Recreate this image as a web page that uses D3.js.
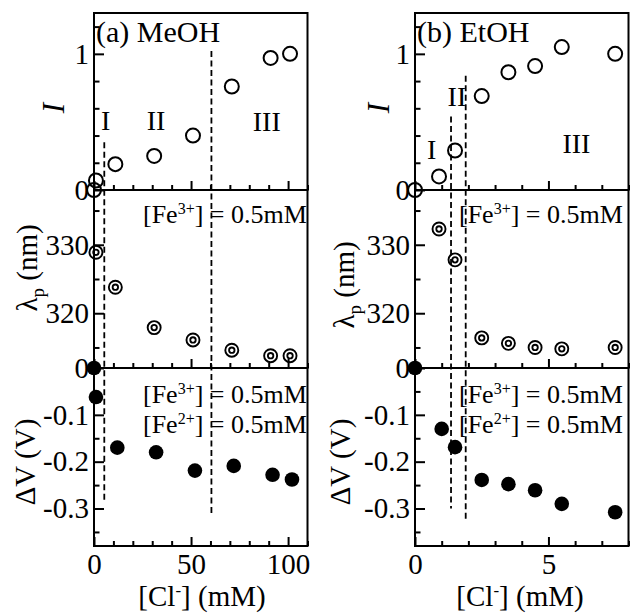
<!DOCTYPE html>
<html><head><meta charset="utf-8">
<script src="https://cdn.jsdelivr.net/npm/d3@7"></script>
<style>html,body{margin:0;padding:0;background:#fff;}svg{display:block;}</style>
</head><body>
<svg id="chart" width="630" height="616"></svg>
<script>
// ---------- data ----------
// (a) MeOH
const clMeOH_I   = [0, 1, 11, 31, 51, 71, 91, 101];
const I_MeOH     = [0, 0.07, 0.19, 0.25, 0.40, 0.76, 0.97, 1.0];
const clMeOH_lam = [1, 11, 31, 51, 71, 91, 101];
const lam_MeOH   = [328.9, 323.8, 317.9, 316.1, 314.6, 313.8, 313.8];
const clMeOH_V   = [0, 1, 12, 32, 52, 72, 92, 102];
const dV_MeOH    = [0, -0.062, -0.17, -0.18, -0.219, -0.209, -0.228, -0.238];
const divMeOH_x   = [5.3, 60.5];
const divMeOH_top = [0.35, 1.02];
const divMeOH_bot = [-0.285, -0.31];
const regMeOH_lab = ["I", "II", "III"];
const regMeOH_x   = [6, 32, 89];
const regMeOH_y   = [0.44, 0.44, 0.43];
// (b) EtOH
const clEtOH_I   = [0, 0.9, 1.5, 2.5, 3.5, 4.5, 5.5, 7.5];
const I_EtOH     = [0, 0.10, 0.29, 0.69, 0.865, 0.91, 1.05, 1.0];
const clEtOH_lam = [0.9, 1.5, 2.5, 3.5, 4.5, 5.5, 7.5];
const lam_EtOH   = [332.3, 327.8, 316.4, 315.6, 315.0, 314.8, 315.0];
const clEtOH_V   = [0, 1.0, 1.5, 2.5, 3.5, 4.5, 5.5, 7.5];
const dV_EtOH    = [0, -0.13, -0.169, -0.239, -0.248, -0.261, -0.29, -0.308];
const divEtOH_x   = [1.35, 1.9];
const divEtOH_top = [0.54, 0.84];
const divEtOH_bot = [-0.30, -0.322];
const regEtOH_lab = ["I", "II", "III"];
const regEtOH_x   = [0.62, 1.57, 6.05];
const regEtOH_y   = [0.23, 0.62, 0.27];
// ticks
const xMajMeOH = [0, 50, 100];
const xMinMeOH = [10, 20, 30, 40, 60, 70, 80, 90, 110];
const xMajEtOH = [0, 5];
const xMinEtOH = [1, 2, 3, 4, 6, 7, 8];
const yMajI = [0, 1],  yMajI_lab = ["0", "1"];
const yMinI = [0.2, 0.4, 0.6, 0.8, 1.2];
const yMajL = [320, 330], yMajL_lab = ["320", "330"];
const yMinL = [315, 325, 335];
const yMajV = [0, -0.1, -0.2, -0.3], yMajV_lab = ["0", "-0.1", "-0.2", "-0.3"];
const yMinV = [-0.05, -0.15, -0.25, -0.35];

// ---------- layout ----------
const svg = d3.select("#chart");
svg.append("rect").attr("width", 630).attr("height", 616).attr("fill", "#fff");
const FONT = "'Liberation Serif','Times New Roman',serif";
const rows = [[13, 190], [190, 368], [368, 546]];

const yI = d3.scaleLinear().domain([0, 1.3]).range([rows[0][1], rows[0][0]]);
const yL = d3.scaleLinear().domain([312, 338]).range([rows[1][1], rows[1][0]]);
const yV = d3.scaleLinear().domain([-0.38, 0]).range([rows[2][1], rows[2][0]]);

const cols = [
  { x: d3.scaleLinear().domain([0, 110]).range([94, 307.5]),
    xMaj: xMajMeOH, xMin: xMinMeOH,
    I: [clMeOH_I, I_MeOH], L: [clMeOH_lam, lam_MeOH], V: [clMeOH_V, dV_MeOH],
    div: [divMeOH_x, divMeOH_top, divMeOH_bot],
    reg: [regMeOH_lab, regMeOH_x, regMeOH_y],
    title: "(a) MeOH", annX: 143,
    labI: [53, 108], labL: [27, 268], labV: [25, 462], labX: 202 },
  { x: d3.scaleLinear().domain([0, 8]).range([415, 628.5]),
    xMaj: xMajEtOH, xMin: xMinEtOH,
    I: [clEtOH_I, I_EtOH], L: [clEtOH_lam, lam_EtOH], V: [clEtOH_V, dV_EtOH],
    div: [divEtOH_x, divEtOH_top, divEtOH_bot],
    reg: [regEtOH_lab, regEtOH_x, regEtOH_y],
    title: "(b) EtOH", annX: 459,
    labI: [378, 108], labL: [344, 285], labV: [340, 462], labX: 520 }
];

function styleAxis(g, size) {
  g.select(".domain").remove();
  g.selectAll("line").attr("stroke", "#000").attr("stroke-width", 2);
  g.selectAll("text").attr("font-family", FONT).attr("font-size", size).attr("fill", "#000");
}

cols.forEach(c => {
  const x = c.x;
  const [xa, xb] = x.range();
  const panels = [[yI, yMajI, yMajI_lab, yMinI], [yL, yMajL, yMajL_lab, yMinL], [yV, yMajV, yMajV_lab, yMinV]];
  panels.forEach(([y, maj, lab, mn], i) => {
    const [yb, yt] = y.range();
    svg.append("g").attr("transform", `translate(${xa},0)`)
      .call(d3.axisLeft(y).tickValues(mn).tickSize(-5.5).tickFormat(""))
      .call(g => styleAxis(g, 29));
    svg.append("g").attr("transform", `translate(${xa},0)`)
      .call(d3.axisLeft(y).tickValues(maj).tickSize(-10).tickPadding(5)
        .tickFormat((d, k) => lab[k]))
      .call(g => styleAxis(g, 29));
    svg.append("g").attr("transform", `translate(0,${yb})`)
      .call(d3.axisBottom(x).tickValues(c.xMin).tickSize(-5).tickFormat(""))
      .call(g => styleAxis(g, 29));
    svg.append("g").attr("transform", `translate(0,${yb})`)
      .call(d3.axisBottom(x).tickValues(c.xMaj).tickSize(-9).tickPadding(7)
        .tickFormat(i === 2 ? (d => String(d)) : ""))
      .call(g => styleAxis(g, 29));
    svg.append("rect").attr("x", xa).attr("y", yt).attr("width", xb - xa).attr("height", yb - yt)
      .attr("fill", "none").attr("stroke", "#000").attr("stroke-width", 2);
  });

  // dashed region dividers
  c.div[0].forEach((dx, k) => {
    svg.append("line")
      .attr("x1", x(dx)).attr("x2", x(dx))
      .attr("y1", yI(c.div[1][k])).attr("y2", yV(c.div[2][k]))
      .attr("stroke", "#000").attr("stroke-width", 1.8).attr("stroke-dasharray", "6,3.5");
  });

  // region labels
  c.reg[0].forEach((t, k) => {
    svg.append("text").attr("x", x(c.reg[1][k])).attr("y", yI(c.reg[2][k]))
      .attr("text-anchor", "middle").attr("font-family", FONT).attr("font-size", 28).text(t);
  });

  // top: open circles
  svg.append("g").selectAll("circle").data(d3.range(c.I[0].length)).join("circle")
    .attr("cx", k => x(c.I[0][k])).attr("cy", k => yI(c.I[1][k])).attr("r", 7)
    .attr("fill", "none").attr("stroke", "#000").attr("stroke-width", 2);
  // middle: bullseye
  const gL = svg.append("g").selectAll("g").data(d3.range(c.L[0].length)).join("g")
    .attr("transform", k => `translate(${x(c.L[0][k])},${yL(c.L[1][k])})`);
  gL.append("circle").attr("r", 6.5).attr("fill", "none").attr("stroke", "#000").attr("stroke-width", 1.9);
  gL.append("circle").attr("r", 2.7).attr("fill", "none").attr("stroke", "#000").attr("stroke-width", 1.9);
  // bottom: filled circles
  svg.append("g").selectAll("circle").data(d3.range(c.V[0].length)).join("circle")
    .attr("cx", k => x(c.V[0][k])).attr("cy", k => yV(c.V[1][k])).attr("r", 7.3)
    .attr("fill", "#000");

  // titles
  svg.append("text").attr("x", xa + 2).attr("y", 42).attr("font-family", FONT)
    .attr("font-size", 30).text(c.title);

  // annotations
  function feLine(yy, ion) {
    const t = svg.append("text").attr("x", c.annX).attr("y", yy).attr("font-family", FONT).attr("font-size", 26);
    t.append("tspan").text("[Fe");
    t.append("tspan").attr("font-size", 16).attr("dy", -9.5).text(ion);
    t.append("tspan").attr("dy", 9.5).text("] = 0.5mM");
  }
  feLine(223, "3+");
  feLine(403, "3+");
  feLine(433, "2+");

  // axis titles
  svg.append("text").attr("transform", `translate(${c.labI[0]},${c.labI[1]}) rotate(-90)`)
    .attr("text-anchor", "middle").attr("dy", "0.35em").attr("font-family", FONT)
    .attr("font-style", "italic").attr("font-size", 31).text("I");
  const tl = svg.append("text").attr("transform", `translate(${c.labL[0]},${c.labL[1]}) rotate(-90)`)
    .attr("text-anchor", "middle").attr("dy", "0.35em").attr("font-family", FONT).attr("font-size", 29);
  tl.append("tspan").text("λ");
  tl.append("tspan").attr("font-size", 19).attr("dy", 7).text("p");
  tl.append("tspan").attr("dy", -7).text(" (nm)");
  svg.append("text").attr("transform", `translate(${c.labV[0]},${c.labV[1]}) rotate(-90)`)
    .attr("text-anchor", "middle").attr("dy", "0.35em").attr("font-family", FONT)
    .attr("font-size", 29).text("ΔV (V)");
  const tx = svg.append("text").attr("x", c.labX).attr("y", 606).attr("text-anchor", "middle")
    .attr("font-family", FONT).attr("font-size", 29);
  tx.append("tspan").text("[Cl");
  tx.append("tspan").attr("font-size", 17).attr("dy", -10).text("-");
  tx.append("tspan").attr("dy", 10).text("] (mM)");
});
</script>
</body></html>
